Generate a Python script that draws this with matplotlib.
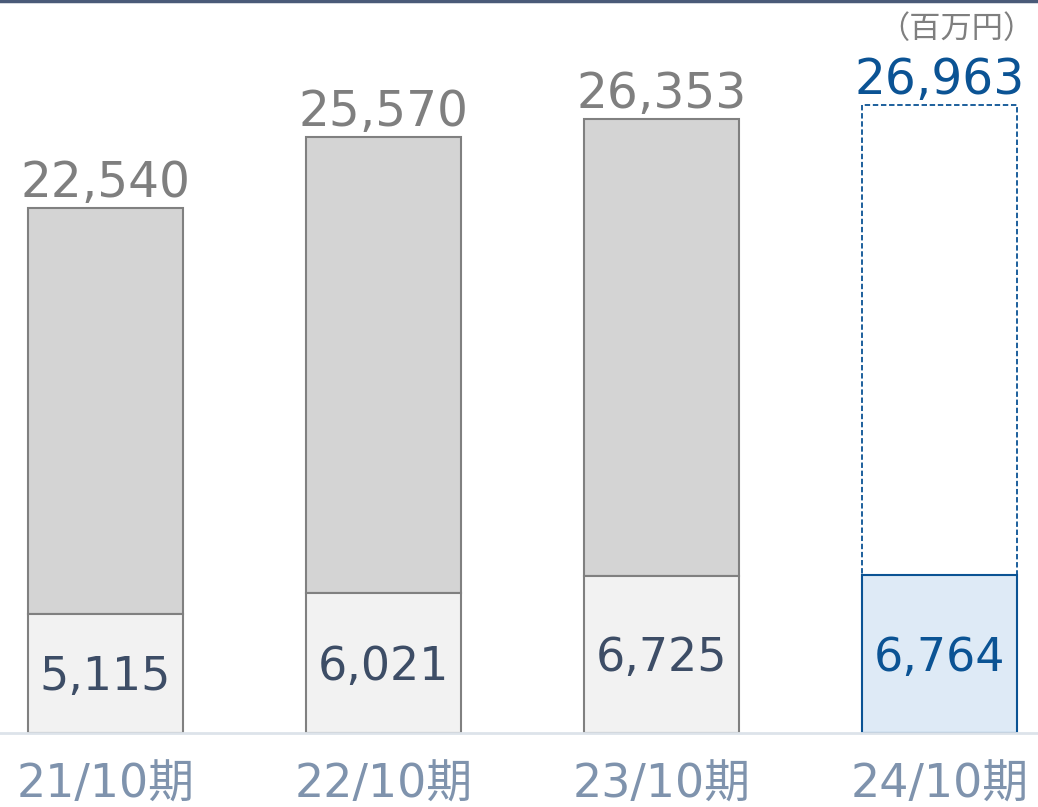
import matplotlib.pyplot as plt
import numpy as np

plt.rcParams['font.family'] = ['DejaVu Sans', 'Noto Sans CJK JP']

# data (百万円)
periods = ['21/10期', '22/10期', '23/10期', '24/10期']
totals = [22540, 25570, 26353, 26963]
lower = [5115, 6021, 6725, 6764]
unit_label = '（百万円）'

gray_edge = '#808080'
blue = '#0b5394'

fig = plt.figure(figsize=(10.38, 8.07), dpi=100)
# axes: full width, baseline at 74 px from bottom
ax = fig.add_axes([0, 74 / 807, 1, 733 / 807])
x = np.arange(len(periods))
width = 155 / 278

upper = [t - b for t, b in zip(totals, lower)]
n = len(periods)
inner_size = 33
for i in range(n):
    last = i == n - 1
    if last:
        ax.bar(x[i], upper[i], width, bottom=lower[i], color='white',
               edgecolor=blue, linewidth=1.3, linestyle=(0, (3, 1.5)), zorder=2)
        ax.bar(x[i], lower[i], width, color='#deeaf6', edgecolor=blue,
               linewidth=1.5, zorder=3)
    else:
        ax.bar(x[i], upper[i], width, bottom=lower[i], color='#d4d4d4',
               edgecolor=gray_edge, linewidth=1.5, zorder=2)
        ax.bar(x[i], lower[i], width, color='#f2f2f2', edgecolor=gray_edge,
               linewidth=1.5, zorder=3)

    # total label above bar
    ax.annotate(f'{totals[i]:,}', (x[i], totals[i]), xytext=(0, 8),
                textcoords='offset points', ha='center', va='baseline',
                fontsize=35, color=blue if last else '#7f7f7f')
    # lower segment label, digits centred in the segment
    ax.annotate(f'{lower[i]:,}', (x[i], lower[i] / 2),
                xytext=(0, -0.729 * inner_size / 2), textcoords='offset points',
                ha='center', va='baseline', fontsize=inner_size,
                color=blue if last else '#3d4d66', zorder=4)

ax.set_xlim(-105.5 / 278, (1038 - 105.5) / 278)
ax.set_ylim(0, 733 * totals[0] / 525)
ax.set_xticks(x)
ax.set_xticklabels(periods, fontsize=33, color='#7f93ad')
ax.tick_params(axis='x', length=0, pad=21)
ax.set_yticks([])
for s in ['top', 'right', 'left']:
    ax.spines[s].set_visible(False)
ax.spines['bottom'].set_color('#dde3ea')
ax.spines['bottom'].set_linewidth(2)
ax.spines['bottom'].set_zorder(5)

# dark line across the top
fig.add_artist(plt.Line2D([0, 1], [1 - 1 / 807, 1 - 1 / 807],
                          transform=fig.transFigure, color='#4a5a78', linewidth=2.5))
fig.text(1035 / 1038, 1 - 29 / 807, unit_label, ha='right', va='center',
         fontsize=22.5, color='#7f7f7f', family=['Noto Sans CJK JP', 'DejaVu Sans'])

fig.savefig('out.png', dpi=100)
